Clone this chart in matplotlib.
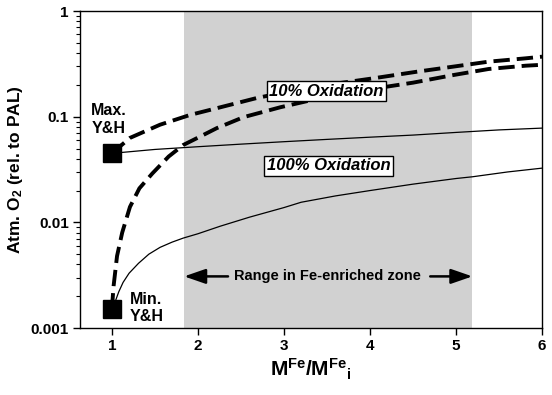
import matplotlib
matplotlib.use("Agg")
import matplotlib.pyplot as plt
from matplotlib.ticker import LogLocator, FixedLocator, NullFormatter

plt.rcParams['font.family'] = ['Liberation Sans', 'DejaVu Sans']
plt.rcParams['font.weight'] = 'bold'
plt.rcParams['mathtext.fontset'] = 'custom'
plt.rcParams['mathtext.rm'] = 'Liberation Sans:bold'
plt.rcParams['mathtext.bf'] = 'Liberation Sans:bold'
plt.rcParams['mathtext.it'] = 'Liberation Sans:bold:italic'
plt.rcParams['mathtext.default'] = 'bf'

# ---- data ----
range_zone = [1.84, 5.19]

markers_x = [1, 1]
markers_y = [0.045, 0.0015]

# 10% oxidation, starting from Max Y&H
dash_max_x = [1.0, 1.21, 1.56, 1.91, 2.23, 2.68, 3.0, 3.5, 4.04, 4.55, 4.97, 5.38, 5.81, 6.0]
dash_max_y = [0.045, 0.063, 0.084, 0.104, 0.121, 0.150, 0.170, 0.200, 0.231, 0.267, 0.298, 0.332, 0.357, 0.37]

# 10% oxidation, starting from Min Y&H
dash_min_x = [1.0, 1.02, 1.06, 1.12, 1.21, 1.32, 1.47, 1.66, 1.83, 2.06, 2.22, 2.53, 2.96, 3.5, 4.0, 4.5, 4.97, 5.38, 5.81, 6.0]
dash_min_y = [0.0015, 0.0025, 0.0048, 0.008, 0.014, 0.021, 0.029, 0.042, 0.054, 0.067, 0.078, 0.099, 0.123, 0.155, 0.182, 0.21, 0.248, 0.283, 0.304, 0.31]

# 100% oxidation, starting from Max Y&H
thin_max_x = [1.0, 1.5, 2.0, 2.5, 3.0, 3.5, 4.0, 4.5, 5.0, 5.5, 6.0]
thin_max_y = [0.045, 0.049, 0.052, 0.055, 0.058, 0.061, 0.064, 0.067, 0.071, 0.075, 0.078]

# 100% oxidation, starting from Min Y&H
thin_min_x = [1.0, 1.03, 1.08, 1.13, 1.2, 1.31, 1.43, 1.56, 1.7, 1.83, 2.0, 2.26, 2.6, 3.0, 3.2, 3.6, 4.0, 4.5, 5.0, 5.19, 5.6, 6.0]
thin_min_y = [0.0015, 0.0017, 0.0022, 0.0027, 0.0033, 0.0041, 0.0050, 0.0058, 0.0065, 0.0071, 0.0078, 0.0092, 0.0112, 0.0138, 0.0155, 0.0178, 0.0200, 0.0230, 0.0260, 0.0270, 0.0300, 0.0326]

xticks = [1, 2, 3, 4, 5, 6]
yticks = [0.001, 0.01, 0.1, 1]
ytick_labels = ['0.001', '0.01', '0.1', '1']

fig = plt.figure(figsize=(5.52, 3.95), dpi=100)
ax = fig.add_axes([0.145, 0.1696, 0.837, 0.8024])

ax.axvspan(range_zone[0], range_zone[1], color='#d1d1d1', lw=0, zorder=0)

lwd = 2.8
ax.plot(dash_max_x, dash_max_y, color='black', lw=lwd, dashes=(4.2, 1.8), zorder=3)
ax.plot(dash_min_x, dash_min_y, color='black', lw=lwd, dashes=(4.2, 1.8), zorder=3)
ax.plot(thin_max_x, thin_max_y, color='black', lw=0.9, zorder=3)
ax.plot(thin_min_x, thin_min_y, color='black', lw=0.9, zorder=3)
ax.plot(markers_x, markers_y, 's', color='black', ms=12.5, zorder=5, clip_on=False)

ax.set_yscale('log')
ax.set_xlim(0.63, 6.0)
ax.set_ylim(0.001, 1)

ax.xaxis.set_major_locator(FixedLocator(xticks))
ax.set_xticklabels([str(t) for t in xticks], fontsize=11, fontweight='bold')
ax.yaxis.set_major_locator(FixedLocator(yticks))
ax.set_yticklabels(ytick_labels, fontsize=11, fontweight='bold')
ax.yaxis.set_minor_locator(LogLocator(base=10, subs=range(2, 10)))
ax.yaxis.set_minor_formatter(NullFormatter())
ax.tick_params(axis='both', which='major', direction='out', length=5, width=1, pad=3)
ax.tick_params(axis='y', which='minor', direction='out', length=3, width=0.8)
for s in ax.spines.values():
    s.set_linewidth(1.0)

ax.set_ylabel(r'Atm. O$_2$ (rel. to PAL)', fontsize=12.5, fontweight='bold', labelpad=4)
ax.set_xlabel(r'$\mathrm{M^{Fe}/M^{Fe}{}_{i}}$', fontsize=15, labelpad=3)

ax.text(0.96, 0.094, 'Max.\nY&H', ha='center', va='center', fontsize=11.5,
        fontweight='bold', linespacing=1.2, zorder=6)
ax.text(1.21, 0.00155, 'Min.\nY&H', ha='left', va='center', fontsize=11.5,
        fontweight='bold', linespacing=1.2, zorder=6)

box = dict(boxstyle='square,pad=0.15', fc='white', ec='black', lw=1.0)
ax.text(3.494, 0.175, '10% Oxidation', ha='center', va='center', fontsize=12,
        fontweight='bold', style='italic', bbox=box, zorder=7)
ax.text(3.52, 0.0343, '100% Oxidation', ha='center', va='center', fontsize=12,
        fontweight='bold', style='italic', bbox=box, zorder=7)

ax.text(3.51, 0.00308, 'Range in Fe-enriched zone', ha='center', va='center',
        fontsize=10.5, fontweight='bold', zorder=6)
arrow = dict(arrowstyle='-|>,head_length=1.3,head_width=0.45', color='black', lw=1.8,
             shrinkA=0, shrinkB=0)
ax.annotate('', xy=(range_zone[0], 0.00308), xytext=(2.35, 0.00308), arrowprops=arrow, zorder=6)
ax.annotate('', xy=(range_zone[1], 0.00308), xytext=(4.70, 0.00308), arrowprops=arrow, zorder=6)

fig.savefig('out.png', dpi=100)
